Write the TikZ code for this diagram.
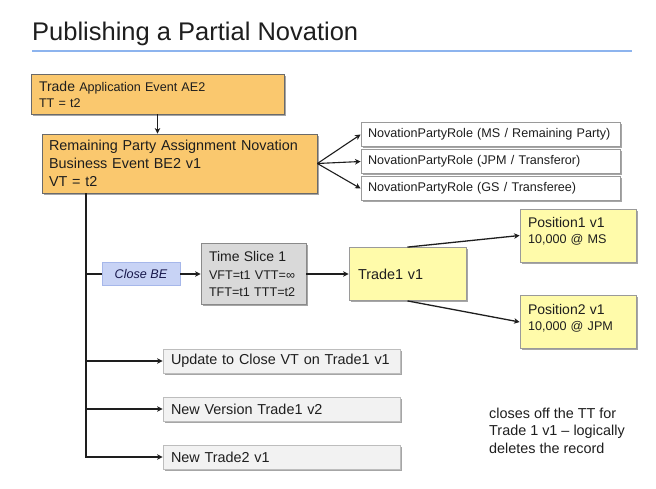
\documentclass[tikz,border=0pt]{standalone}
\usepackage{fontspec}
\setmainfont{Liberation Sans}
\usetikzlibrary{arrows.meta,shadows}
\definecolor{orangefill}{HTML}{FAC86E}
\definecolor{orangedraw}{HTML}{6A6A6A}
\definecolor{boxdraw}{HTML}{9A9A9A}
\definecolor{bluefill}{HTML}{C8D3F5}
\definecolor{bluedraw}{HTML}{A6B7EA}
\definecolor{slicefill}{HTML}{D9D9D9}
\definecolor{slicedraw}{HTML}{8A8A8A}
\definecolor{yellowfill}{HTML}{FFFBAA}
\definecolor{lightfill}{HTML}{F2F2F2}
\definecolor{lightdraw}{HTML}{BDBDBD}
\definecolor{titleline}{HTML}{8DB4EE}
\definecolor{txt}{HTML}{1E1E1E}
\newcommand{\mainsz}{\fontsize{14.4}{18}\selectfont}
\newcommand{\smallsz}{\fontsize{12.6}{16}\selectfont}
\tikzset{
  shbox/.style={rectangle, line width=0.8pt, text=txt, align=left,
    drop shadow={shadow xshift=1.6pt, shadow yshift=-1.6pt, opacity=0.35, fill=black}},
  orangebox/.style={shbox, fill=orangefill, draw=orangedraw},
  rolebox/.style={shbox, fill=white, draw=boxdraw, minimum width=259pt, minimum height=24pt,
    text width=245pt, inner xsep=7pt, font=\smallsz},
  closebox/.style={rectangle, fill=bluefill, draw=bluedraw, line width=0.8pt, text=txt!80!blue,
    minimum width=78pt, minimum height=23pt, font=\smallsz\itshape},
  slicebox/.style={shbox, fill=slicefill, draw=slicedraw},
  yelbox/.style={shbox, fill=yellowfill, draw=boxdraw},
  actbox/.style={shbox, fill=lightfill, draw=lightdraw, minimum width=237pt, minimum height=24pt,
    text width=221pt, inner xsep=8pt, font=\mainsz},
  conn/.style={line width=1.1pt, draw=txt},
  arr/.style={conn, -{Stealth[length=5.5pt,width=5.5pt,inset=1.5pt]}},
}
\begin{document}
\begin{tikzpicture}[x=1pt,y=-1pt]
\useasboundingbox[fill=white] (0,0) rectangle (656,488);
% title
\node[anchor=base west, inner sep=0, text=txt, font=\fontsize{25.5}{30}\selectfont] (title) at (32,40.5) {Publishing a Partial Novation};
\draw[titleline, line width=1.8pt] (32,51) -- (632,51);
% events
\node[orangebox, minimum width=253pt, minimum height=40pt, text width=237pt, inner xsep=8pt, font=\smallsz] (ae) at (157.5,94)
  {{\fontsize{14}{16}\selectfont Trade} Application Event AE2\\TT = t2};
\node[orangebox, minimum width=275pt, minimum height=59pt, text width=261pt, inner xsep=7pt, font=\mainsz] (be) at (179.5,163.5)
  {Remaining Party Assignment Novation\\Business Event BE2 v1\\VT = t2};
% roles
\node[rolebox] (r1) at (490.5,134.5) {NovationPartyRole (MS / Remaining Party)};
\node[rolebox] (r2) at (490.5,161.5) {NovationPartyRole (JPM / Transferor)};
\node[rolebox] (r3) at (490.5,188.5) {NovationPartyRole (GS / Transferee)};
% middle row
\node[closebox] (cbe) at (141,274) {Close BE};
\node[slicebox, minimum width=105pt, minimum height=61pt, text width=89pt, inner xsep=8pt, font=\fontsize{12.6}{17.5}\selectfont] (ts) at (253.5,274)
  {{\fontsize{14}{17.5}\selectfont Time Slice 1}\\VFT=t1 VTT=∞\\TFT=t1 TTT=t2};
\node[yelbox, minimum width=117pt, minimum height=53pt, text width=99pt, inner xsep=9pt, font=\mainsz] (t1) at (407.5,274) {Trade1 v1};
\node[yelbox, minimum width=116pt, minimum height=53pt, text width=100pt, inner xsep=8pt, font=\smallsz] (p1) at (578,235.5)
  {{\fontsize{14}{16}\selectfont Position1 v1}\\10,000 @ MS\\[-6pt]\mbox{}};
\node[yelbox, minimum width=116pt, minimum height=53pt, text width=100pt, inner xsep=8pt, font=\smallsz] (p2) at (578,322)
  {{\fontsize{14}{16}\selectfont Position2 v1}\\10,000 @ JPM\\[-6pt]\mbox{}};
% actions
\node[actbox] (up) at (281.5,361) {Update to Close VT on Trade1 v1};
\node[actbox] (nv) at (281.5,409) {New Version Trade1 v2};
\node[actbox] (nt) at (281.5,457) {New Trade2 v1};
% note
\node[anchor=west, inner sep=0, align=left, text=txt, font=\fontsize{14.4}{17.5}\selectfont] (note) at (489,430.5)
  {closes off the TT for\\Trade 1 v1 – logically\\deletes the record};
% connectors
\coordinate (vb) at (86,457);
\draw[arr] (ae.south) -- (ae.south |- be.north);
\draw[arr] (be.east) -- (r1.west);
\draw[arr] (be.east) -- (r2.west);
\draw[arr] (be.east) -- (r3.west);
\draw[arr] (vb |- be.south) -- (vb) -- (nt.west);
\draw[conn] (vb |- cbe.west) -- (cbe.west);
\draw[arr] (vb |- up.west) -- (up.west);
\draw[arr] (vb |- nv.west) -- (nv.west);
\draw[arr] (cbe.east) -- (ts.west);
\draw[arr] (ts.east) -- (t1.west);
\draw[arr, line width=1.3pt] (t1.north) -- (p1.west);
\draw[arr, line width=1.3pt] (t1.south) -- (p2.west);
\end{tikzpicture}
\end{document}
